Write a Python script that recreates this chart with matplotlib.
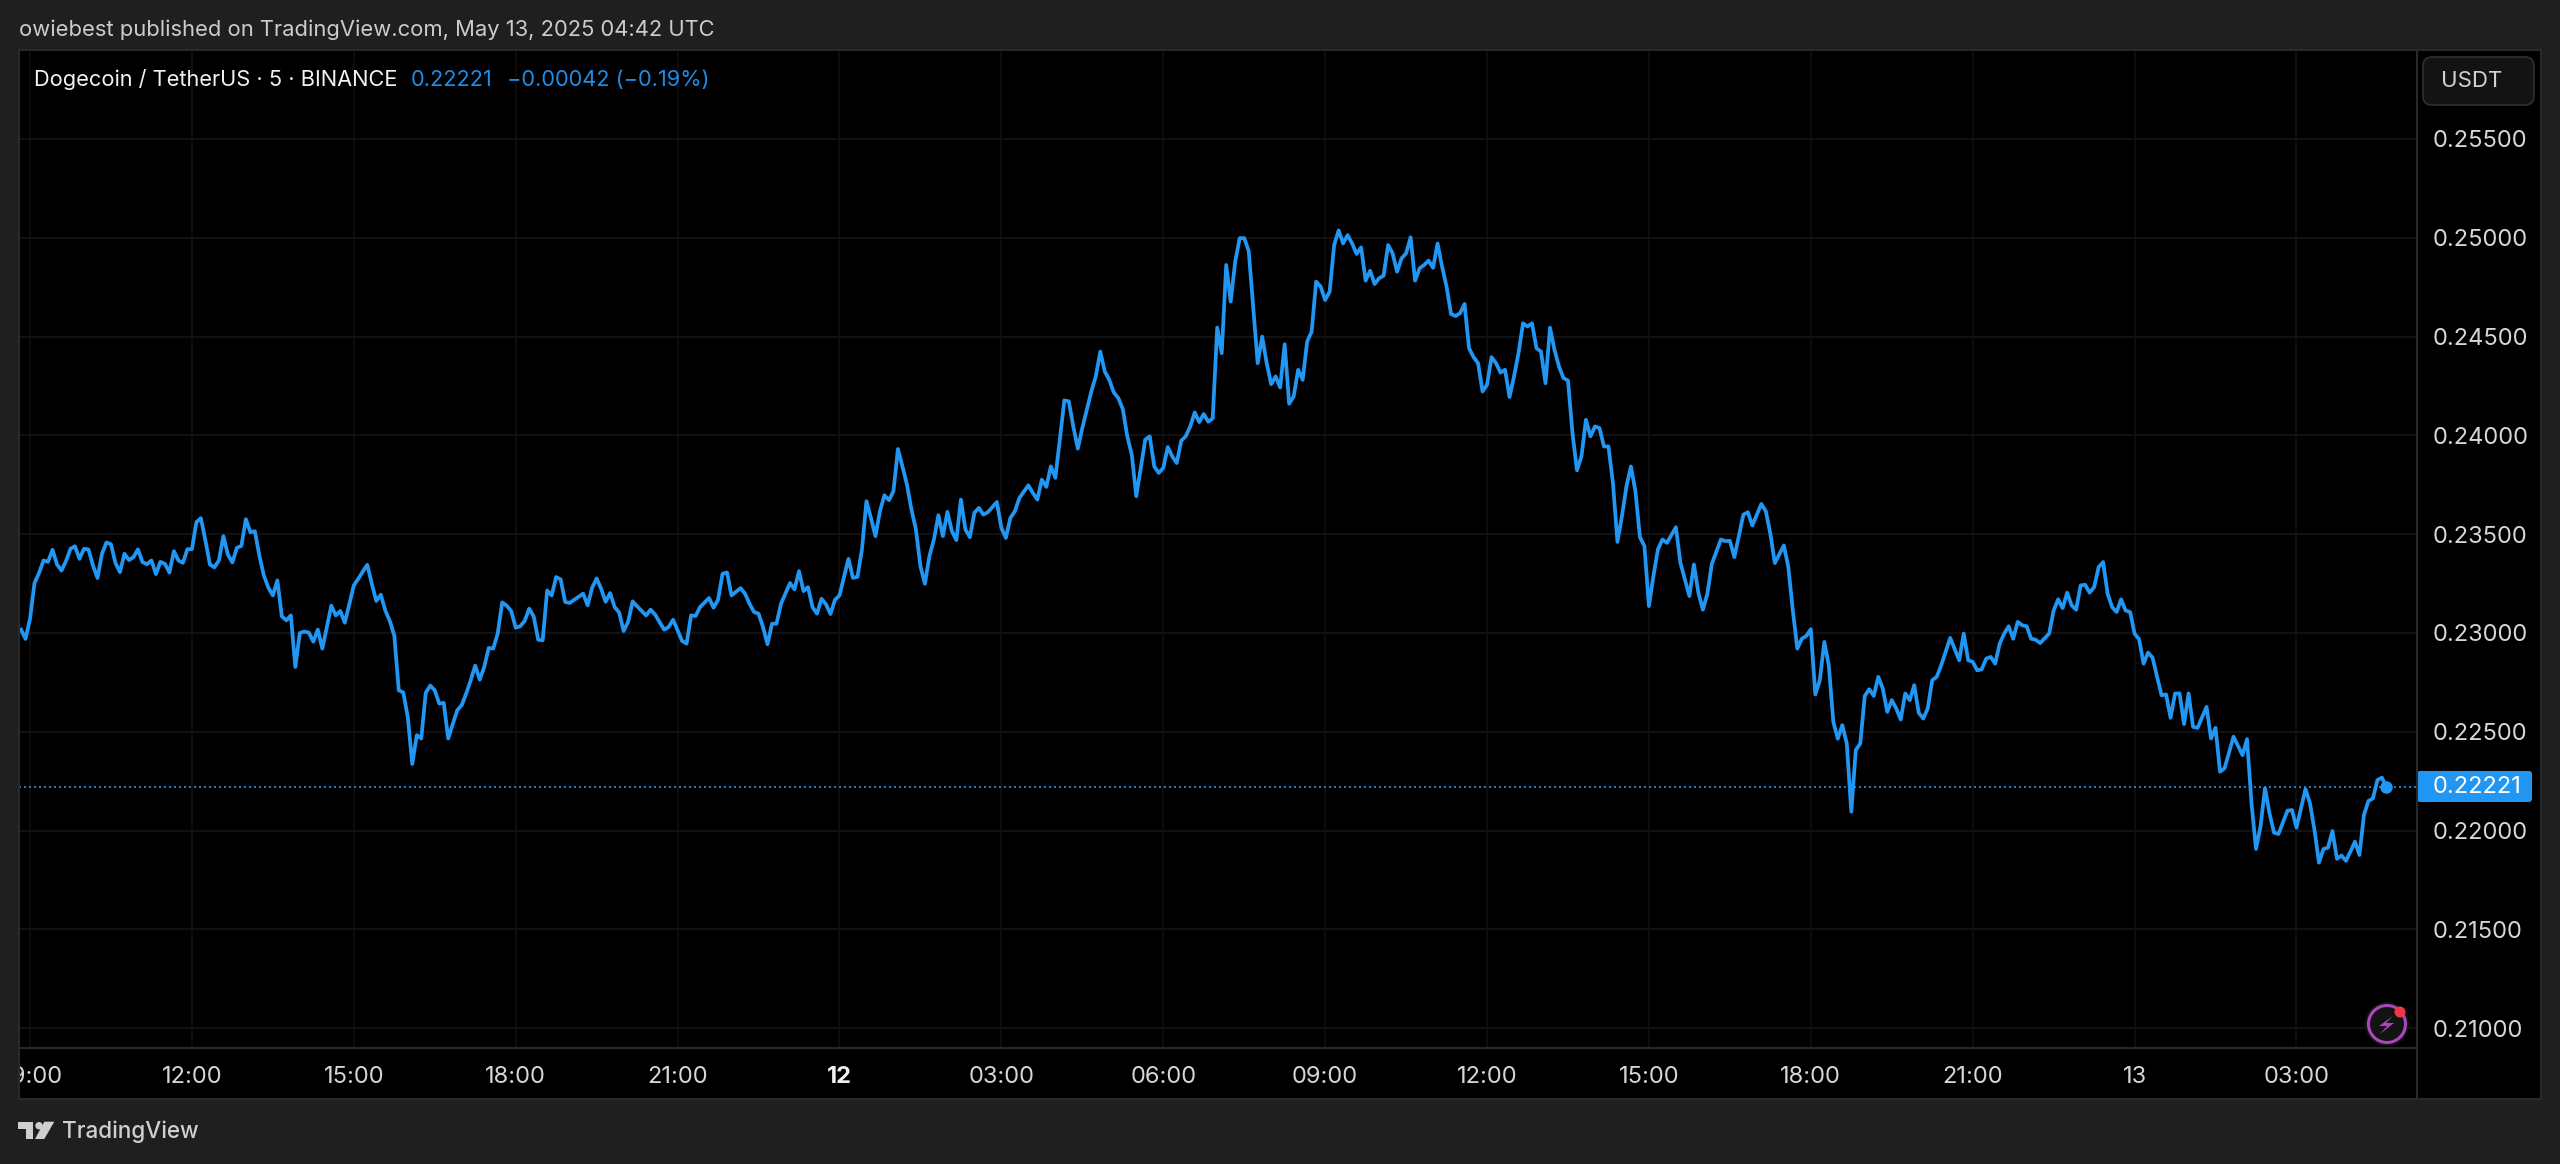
import numpy as np
from matplotlib import pyplot as plt
from matplotlib.patches import Rectangle, FancyBboxPatch, Circle, Polygon
from matplotlib.transforms import Bbox

# 5 minute bars, bar 0 is May 11 09:00
bars_11 = [-2,-1,0,1,2,3,4,5,6,7,8,9,10,11,12,13,14,15,16,17,18,19,20,21,22,23,24,25,26,27,28,29,30,31,32,33,34,35,36,37,38,39,40,41,42,43,44,45,46,47,48,49,50,51,52,53,54,55,56,57,58,59,60,61,62,63,64,65,66,67,68,69,70,71,72,73,74,75,76,77,78,79,80,81,82,83,84,85,86,87,88,89,90,91,92,93,94,95,96,97,98,99,100,101,102,103,104,105,106,107,108,109,110,111,112,113,114,115,116,117,118,119,120,123,124,125,126,127,128,129,130,131,132,133,134,135,137,138,139,141,142,143,144,145,146,147,148,149,151,152,153,154,155,156,158,159,160,161,162,163,164,165,166,167,169,170,171,172,173,174,175,176,177,178,179,180,181,182]
prices_11 = [.23017,.22970,.23072,.23253,.23303,.23367,.23360,.23421,.23347,.23316,.23364,.23426,.23439,.23375,.23426,.23423,.23342,.23278,.23401,.23458,.23449,.23354,.23308,.23401,.23369,.23384,.23423,.23359,.23348,.23367,.23298,.23360,.23350,.23306,.23414,.23367,.23355,.23424,.23424,.23561,.23581,.23468,.23347,.23332,.23367,.23490,.23397,.23357,.23431,.23441,.23576,.23510,.23515,.23392,.23291,.23229,.23190,.23266,.23084,.23064,.23089,.22828,.23000,.23007,.23002,.22956,.23017,.22921,.23030,.23138,.23089,.23111,.23052,.23145,.23241,.23274,.23311,.23345,.23249,.23162,.23194,.23114,.23061,.22988,.22710,.22699,.22576,.22337,.22483,.22466,.22697,.22734,.22710,.22643,.22646,.22466,.22539,.22609,.22635,.22694,.22761,.22835,.22764,.22828,.22924,.22921,.22997,.23155,.23138,.23111,.23027,.23034,.23061,.23123,.23084,.22966,.22963,.23215,.23190,.23283,.23271,.23157,.23152,.23199,.23140,.23229,.23276,.23224,.23158,.23202,.23131,.23104,.23010,.23056,.23160,.23135,.23089,.23118,.23093,.23017,.23030,.23067,.23013,.22960,.22946,.23089,.23086,.23131,.23177,.23128,.23168,.23300,.23306,.23190,.23227,.23199,.23148,.23106,.23098,.23030,.22943,.23047,.23047,.23148,.23253,.23221,.23313,.23212,.23232,.23131,.23098,.23173,.23145,.23096,.23168,.23190,.23283,.23375]

bars_12 = [183,184,185,186,187,188,189,190,191,192,193,194,195,196,197,198,199,200,201,202,203,204,205,206,207,208,209,210,211,212,213,215,216,217,218,219,220,222,223,224,225,226,227,228,229,230,231,232,233,234,235,236,237,238,239,240,241,242,243,244,245,246,247,248,249,250,251,252,253,254,255,256,257,258,259,260,261,262,263,264,265,266,267,268,269,270,271,272,273,274,275,276,277,278,279,280,281,282,283,284,285,286,287,288,289,290,291,292,293,294,295,296,297,298,299,300,301,302,303,304,305,306,307,308,309,310,311,312,313,314,315,316,317,318,319,320,321,322,323,324,325,326,327,328,329,330,331,332,333,334,335,336,337,338,339,340,341,342,343,344,345,346,347,348,349,350,351,352,353,354,355,356,357,358,359,360,361,362,363,364,366,367,369,370,371]
prices_12 = [.23279,.23284,.23423,.23667,.23582,.23490,.23616,.23697,.23672,.23717,.23931,.23843,.23751,.23625,.23524,.23338,.23249,.23389,.23473,.23596,.23490,.23613,.23515,.23470,.23675,.23524,.23485,.23608,.23633,.23599,.23611,.23663,.23532,.23481,.23582,.23616,.23683,.23747,.23709,.23675,.23776,.23739,.23843,.23785,.23978,.24177,.24172,.24045,.23933,.24037,.24130,.24222,.24298,.24424,.24323,.24281,.24217,.24189,.24133,.23995,.23902,.23692,.23835,.23978,.23995,.23843,.23810,.23835,.23941,.23894,.23860,.23973,.23995,.24045,.24116,.24067,.24108,.24069,.24086,.24545,.24416,.24862,.24677,.24879,.24998,.24998,.24934,.24652,.24365,.24500,.24365,.24259,.24298,.24242,.24461,.24160,.24197,.24332,.24281,.24475,.24525,.24778,.24753,.24685,.24727,.24963,.25037,.24971,.25013,.24971,.24918,.24951,.24783,.24833,.24766,.24795,.24808,.24963,.24921,.24828,.24896,.24921,.25002,.24783,.24845,.24862,.24884,.24848,.24971,.24854,.24753,.24614,.24604,.24618,.24665,.24441,.24396,.24365,.24222,.24256,.24396,.24365,.24318,.24332,.24194,.24298,.24416,.24567,.24551,.24567,.24441,.24424,.24264,.24545,.24433,.24348,.24290,.24278,.24012,.23823,.23894,.24079,.23995,.24045,.24037,.23944,.23944,.23759,.23461,.23591,.23742,.23843,.23717,.23485,.23439,.23136,.23288,.23423,.23473,.23456,.23535,.23355,.23187,.23347,.23204]

bars_13 = [372,373,374,376,377,378,379,381,382,383,385,386,387,388,390,391,392,393,394,395,396,397,398,399,400,401,402,403,404,405,406,407,408,409,410,411,412,413,414,415,416,417,418,419,420,421,422,423,424,425,427,429,430,431,432,433,434,435,436,437,438,439,440,441,442,443,444,445,446,447,449,450,451,452,453,454,455,456,457,458,459,460,461,462,463,464,465,466,467,468,469,470,471,472,473,474,475,476,477,478,479,480,481,482,484,485,486,487,488,490,492,493,494,495,496,497,498,499,500,502,503,504,506,507,508,509,510,511,512,513,514,515,516,517,518,519,520,521,522,523,524]
prices_13 = [.23118,.23199,.23350,.23473,.23465,.23466,.23384,.23599,.23611,.23544,.23653,.23616,.23502,.23354,.23443,.23333,.23114,.22921,.22971,.22985,.23019,.22689,.22761,.22955,.22837,.22551,.22465,.22534,.22441,.22096,.22407,.22441,.22682,.22715,.22682,.22778,.22719,.22601,.22660,.22618,.22562,.22694,.22660,.22736,.22596,.22567,.22618,.22761,.22778,.22837,.22975,.22862,.22997,.22862,.22854,.22811,.22816,.22870,.22879,.22845,.22946,.22997,.23034,.22971,.23056,.23039,.23034,.22971,.22966,.22949,.22997,.23114,.23170,.23126,.23204,.23140,.23118,.23241,.23244,.23204,.23232,.23333,.23359,.23199,.23131,.23106,.23170,.23114,.23106,.22997,.22968,.22845,.22901,.22875,.22778,.22685,.22689,.22571,.22694,.22694,.22539,.22694,.22525,.22520,.22626,.22466,.22520,.22298,.22315,.22475,.22382,.22463,.22138,.21907,.22020,.22214,.22088,.21990,.21983,.22101,.22104,.22015,.22210,.22138,.22003,.21838,.21907,.21914,.21998,.21857,.21874,.21847,.21894,.21944,.21877,.22079,.22150,.22163,.22256,.22268,.22221]

price_ticks = [.255,.25,.245,.24,.235,.23,.225,.22,.215,.21]
time_ticks = [0,36,72,108,144,180,216,252,288,324,360,396,432,468,504]
time_labels = ['09:00','12:00','15:00','18:00','21:00','12','03:00','06:00','09:00','12:00','15:00','18:00','21:00','13','03:00']
last_price = 0.22221

BG = '#1f1f1f'
BLUE = '#2196f3'
TEXT_BLUE = '#1e8ce8'
BORDER = '#292929'
W, H = 2560, 1164
plt.rcParams['font.family'] = ['Inter', 'DejaVu Sans']

fig = plt.figure(figsize=(W/100, H/100), dpi=100, facecolor=BG)

def box(l, t, r, b):
    return [l/W, 1-b/H, (r-l)/W, (b-t)/H]

ax = fig.add_axes(box(19, 50, 2417, 1048), facecolor='black')
ax.set_xlim(-2.45, 530.8)
ax.set_ylim(0.20900, 0.25950)

xs = bars_11+bars_12+bars_13
ys = prices_11+prices_12+prices_13
ax.plot(xs, ys, color=BLUE, lw=2.7, solid_joinstyle='round', zorder=3)
ax.plot(xs[-1], ys[-1], 'o', color=BLUE, ms=8, zorder=4)
ax.axhline(last_price, color=BLUE, lw=1.2, ls=(0, (1.2, 1.8)), zorder=2)

ax.set_yticks(price_ticks)
ax.set_yticklabels(['%.5f' % p for p in price_ticks])
ax.set_xticks(time_ticks)
ax.set_xticklabels(time_labels)
ax.grid(True, axis='y', color='#121212', lw=1.4, zorder=1)
ax.grid(True, axis='x', color='#0e0e0e', lw=1.4, zorder=1)
ax.yaxis.tick_right()
ax.tick_params(axis='both', length=0, labelsize=17, labelcolor='#d6d6d6')
ax.tick_params(axis='y', pad=11)
ax.tick_params(axis='x', pad=13)
for side in ax.spines:
    ax.spines[side].set_visible(False)

left_clip = Bbox([[19, 0], [2417, H]])
for lab, text in zip(ax.get_xticklabels(), time_labels):
    lab.set_clip_on(True)
    lab.set_clip_box(left_clip)
    if text == '12':
        lab.set_fontweight('bold')
        lab.set_color('#f0f0f0')

# page furniture in pixel coords
over = fig.add_axes([0, 0, 1, 1], facecolor='none', zorder=-1)
over.set_xlim(0, W)
over.set_ylim(H, 0)
over.axis('off')
over.add_patch(Rectangle((19, 50), 2522, 1049, fc='black', ec='none'))

top = fig.add_axes([0, 0, 1, 1], facecolor='none', zorder=5)
top.set_xlim(0, W)
top.set_ylim(H, 0)
top.axis('off')
for seg in [((19, 19), (50, 1099)), ((19, 2541), (50, 50)), ((19, 2541), (1099, 1099)),
            ((2541, 2541), (50, 1099)), ((2417, 2417), (50, 1099)), ((19, 2417), (1048, 1048))]:
    top.plot(seg[0], seg[1], color=BORDER, lw=1.5, solid_capstyle='butt')

top.text(19, 30, 'owiebest published on TradingView.com, May 13, 2025 04:42 UTC',
         color='#cccccc', fontsize=15.8, va='center', ha='left')
top.text(34, 80, 'Dogecoin / TetherUS · 5 · BINANCE', color='#f2f2f2', fontsize=15.7, va='center')
top.text(411, 80, '0.22221', color=TEXT_BLUE, fontsize=15.7, va='center')
top.text(507, 80, '−0.00042 (−0.19%)', color=TEXT_BLUE, fontsize=15.7, va='center')

top.add_patch(FancyBboxPatch((2429, 63), 99, 36, boxstyle='round,pad=6,rounding_size=9',
                             fc='#131313', ec='#303030', lw=1.2))
top.text(2441, 81, 'USDT', color='#d0d0d0', fontsize=16, va='center')

top.add_patch(FancyBboxPatch((2417, 771), 115, 31, boxstyle='round,pad=0,rounding_size=3',
                             fc=BLUE, ec='none'))
top.text(2433, 787, '%.5f' % last_price, color='white', fontsize=17, va='center')

# lightning badge
top.add_patch(Circle((2387, 1024), 22, fc='#131313', ec='none'))
top.add_patch(Circle((2387, 1024), 18.5, fc='#131313', ec='#ab47bc', lw=2.2))
top.add_patch(Polygon([(2393, 1016), (2379, 1026), (2387, 1026), (2380, 1034), (2394, 1023), (2386, 1023)],
                      fc='#ab47bc', ec='none'))
top.add_patch(Circle((2400, 1012), 5.5, fc='#f23645', ec='none'))

# TradingView logo
LOGO = '#cfcfcf'
top.add_patch(Polygon([(18, 1121.7), (33.3, 1121.7), (33.3, 1139), (25.7, 1139), (25.7, 1129), (18, 1129)], fc=LOGO, ec='none'))
top.add_patch(Circle((39, 1125.7), 3.7, fc=LOGO, ec='none'))
top.add_patch(Polygon([(44.3, 1121.7), (54.3, 1121.7), (44.3, 1139), (35, 1139)], fc=LOGO, ec='none'))
top.text(62, 1132, 'TradingView', color=LOGO, fontsize=16.2, va='center', fontweight='medium')

fig.savefig('out.png', dpi=100, facecolor=BG)
